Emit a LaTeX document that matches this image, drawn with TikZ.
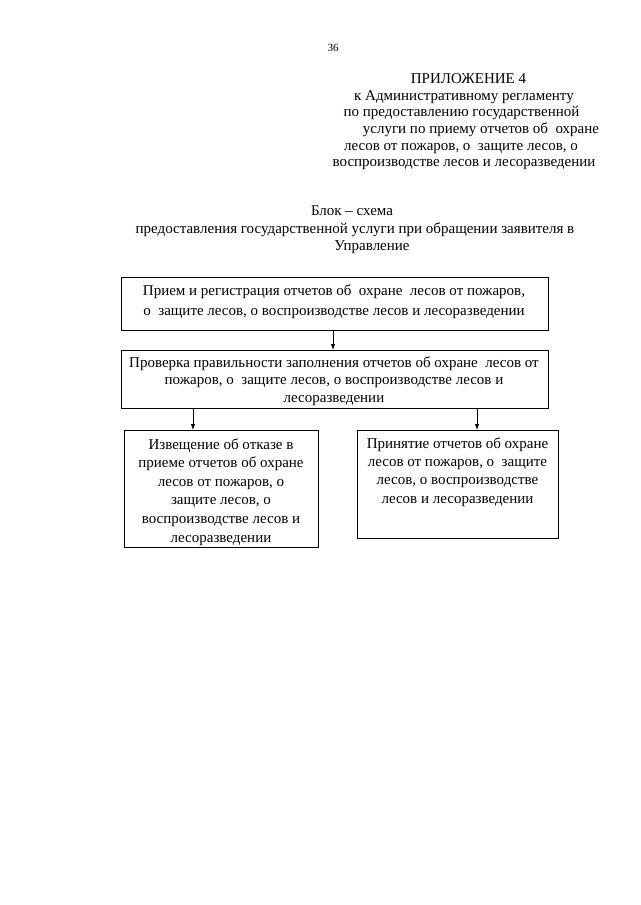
\documentclass[tikz,border=0pt]{standalone}
\usepackage{fontspec}
\setmainfont{Liberation Serif}
\usetikzlibrary{arrows.meta}
\begin{document}
\begin{tikzpicture}[x=1pt,y=-1pt,
  every node/.style={inner sep=0pt, outer sep=0pt},
  hdr/.style={font=\fontsize{15}{17}\selectfont, anchor=base},
  box/.style={draw, line width=0.8pt, anchor=north west},
  btxt/.style={align=center, anchor=base},
  arr/.style={line width=0.8pt, -{Latex[length=6pt,width=4.5pt]}}]
\useasboundingbox (0,0) rectangle (640,905);
\node[font=\fontsize{11}{12}\selectfont, anchor=base] (pg) at (333,51) {36};
\node[hdr] (h1) at (468.5,83) {ПРИЛОЖЕНИЕ 4};
\node[hdr] (h2) at (464,100.5) {к Административному регламенту};
\node[hdr] (h3) at (461.5,116.5) {по предоставлению государственной};
\node[hdr] (h4) at (481,133) {услуги по приему отчетов об\ \ охране};
\node[hdr] (h5) at (461,150) {лесов от пожаров, о\ \ защите лесов, о};
\node[hdr] (h6) at (464,166.5) {воспроизводстве лесов и лесоразведении};
\node[hdr] (t1) at (352,215) {Блок – схема};
\node[hdr] (t2) at (355,233) {предоставления государственной услуги при обращении заявителя в};
\node[hdr] (t3) at (372,250) {Управление};
% boxes
\node[box, minimum width=427pt, minimum height=53pt] (b1) at (121,277) {};
\node[box, minimum width=427pt, minimum height=58pt] (b2) at (121,350) {};
\node[box, minimum width=194pt, minimum height=117pt] (b3) at (124,430) {};
\node[box, minimum width=201pt, minimum height=108pt] (b4) at (357,430) {};
% texts (anchor base = baseline of the last line)
\node[btxt, font=\fontsize{15}{20}\selectfont] (x1) at (334,315) {Прием и регистрация отчетов об\ \ охране\ \ лесов от пожаров,\\ о\ \ защите лесов, о воспроизводстве лесов и лесоразведении};
\node[btxt, font=\fontsize{15}{17.5}\selectfont] (x2) at (334,402) {Проверка правильности заполнения отчетов об охране\ \ лесов от\\ пожаров, о\ \ защите лесов, о воспроизводстве лесов и\\ лесоразведении};
\node[btxt, font=\fontsize{15}{18.6}\selectfont] (x3) at (221,542) {Извещение об отказе в\\ приеме отчетов об охране\\ лесов от пожаров, о\\ защите лесов, о\\ воспроизводстве лесов и\\ лесоразведении};
\node[btxt, font=\fontsize{15}{18.3}\selectfont] (x4) at (457.5,503) {Принятие отчетов об охране\\ лесов от пожаров, о\ \ защите\\ лесов, о воспроизводстве\\ лесов и лесоразведении};
% arrows
\draw[arr] (b1.south -| 333,0) -- (b2.north -| 333,0);
\draw[arr] (b2.south -| 193,0) -- (b3.north -| 193,0);
\draw[arr] (b2.south -| 477,0) -- (b4.north -| 477,0);
\end{tikzpicture}
\end{document}
